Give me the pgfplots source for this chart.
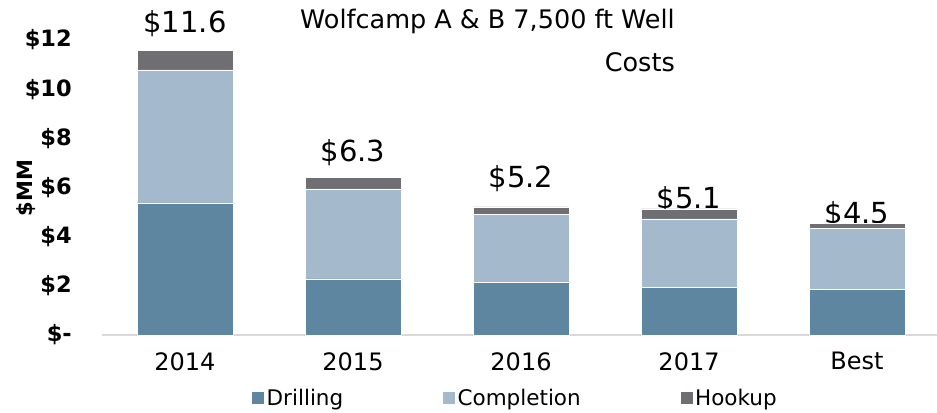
\documentclass[border=0pt]{standalone}
\usepackage{fontspec}
\setmainfont{DejaVu Sans}
\usepackage{pgfplots}
\pgfplotsset{compat=1.18}
\definecolor{drill}{RGB}{94,134,160}
\definecolor{compl}{RGB}{164,185,204}
\definecolor{hook}{RGB}{110,110,115}
\definecolor{axgray}{RGB}{217,217,217}
\begin{document}
\begin{tikzpicture}
\useasboundingbox (-102bp,-78bp) rectangle (835bp,335bp);
\begin{axis}[at={(0,0)}, anchor=south west, scale only axis,
  width=835bp, height=295bp,
  xmin=-0.494, xmax=4.476, ymin=0, ymax=12,
  ybar stacked, bar width=0.571,
  clip=false,
  axis x line=bottom, axis y line=left,
  x axis line style={draw=axgray, line width=2bp, -},
  y axis line style={draw=none},
  major tick length=0pt,
  ytick={0,2,4,6,8,10,12},
  yticklabels={\$-,\$2,\$4,\$6,\$8,\$10,\$12},
  yticklabel style={font=\bfseries\fontsize{22.5bp}{26bp}\selectfont, anchor=east, inner sep=0pt, xshift=-30bp},
  xtick={0,1,2,3,4},
  xticklabels={2014,2015,2016,2017,Best},
  xticklabel style={font=\fontsize{24bp}{28bp}\selectfont, anchor=north, inner sep=0pt, yshift=-17bp},
  legend columns=3,
  legend style={draw=none, at={(0.4946,-0.2136)}, anchor=center, inner sep=0pt,
    font=\fontsize{21.5bp}{24bp}\selectfont,
    /tikz/every even column/.append style={column sep=97bp}},
  legend image code/.code={\fill[#1] (0bp,-6.5bp) rectangle (13bp,6.5bp);},
]
\addplot[fill=drill, draw=white, line width=0.4bp] coordinates {(0,5.38) (1,2.28) (2,2.14) (3,1.94) (4,1.86)};
\addplot[fill=compl, draw=white, line width=0.4bp] coordinates {(0,5.40) (1,3.66) (2,2.78) (3,2.78) (4,2.49)};
\addplot[fill=hook, draw=white, line width=0.4bp] coordinates {(0,0.81) (1,0.46) (2,0.29) (3,0.41) (4,0.18)};
\legend{Drilling, Completion, Hookup}
\node[font=\fontsize{29bp}{32bp}\selectfont, anchor=base] at (axis cs:0,12.32) {\$11.6};
\node[font=\fontsize{29bp}{32bp}\selectfont, anchor=base] at (axis cs:1,7.07) {\$6.3};
\node[font=\fontsize{29bp}{32bp}\selectfont, anchor=base] at (axis cs:2,6.02) {\$5.2};
\node[font=\fontsize{29bp}{32bp}\selectfont, anchor=base] at (axis cs:3,5.16) {\$5.1};
\node[font=\fontsize{29bp}{32bp}\selectfont, anchor=base] at (axis cs:4,4.55) {\$4.5};
\end{axis}
\node[anchor=base east, inner sep=0pt, font=\fontsize{25.5bp}{30bp}\selectfont] at (573bp,306bp) {Wolfcamp A \& B 7,500 ft Well};
\node[anchor=base east, inner sep=0pt, font=\fontsize{25.5bp}{30bp}\selectfont] at (573bp,263bp) {Costs};
\node[rotate=90, inner sep=0pt, font=\bfseries\fontsize{21bp}{24bp}\selectfont] at (-76bp,147bp) {\$MM};
\end{tikzpicture}
\end{document}
